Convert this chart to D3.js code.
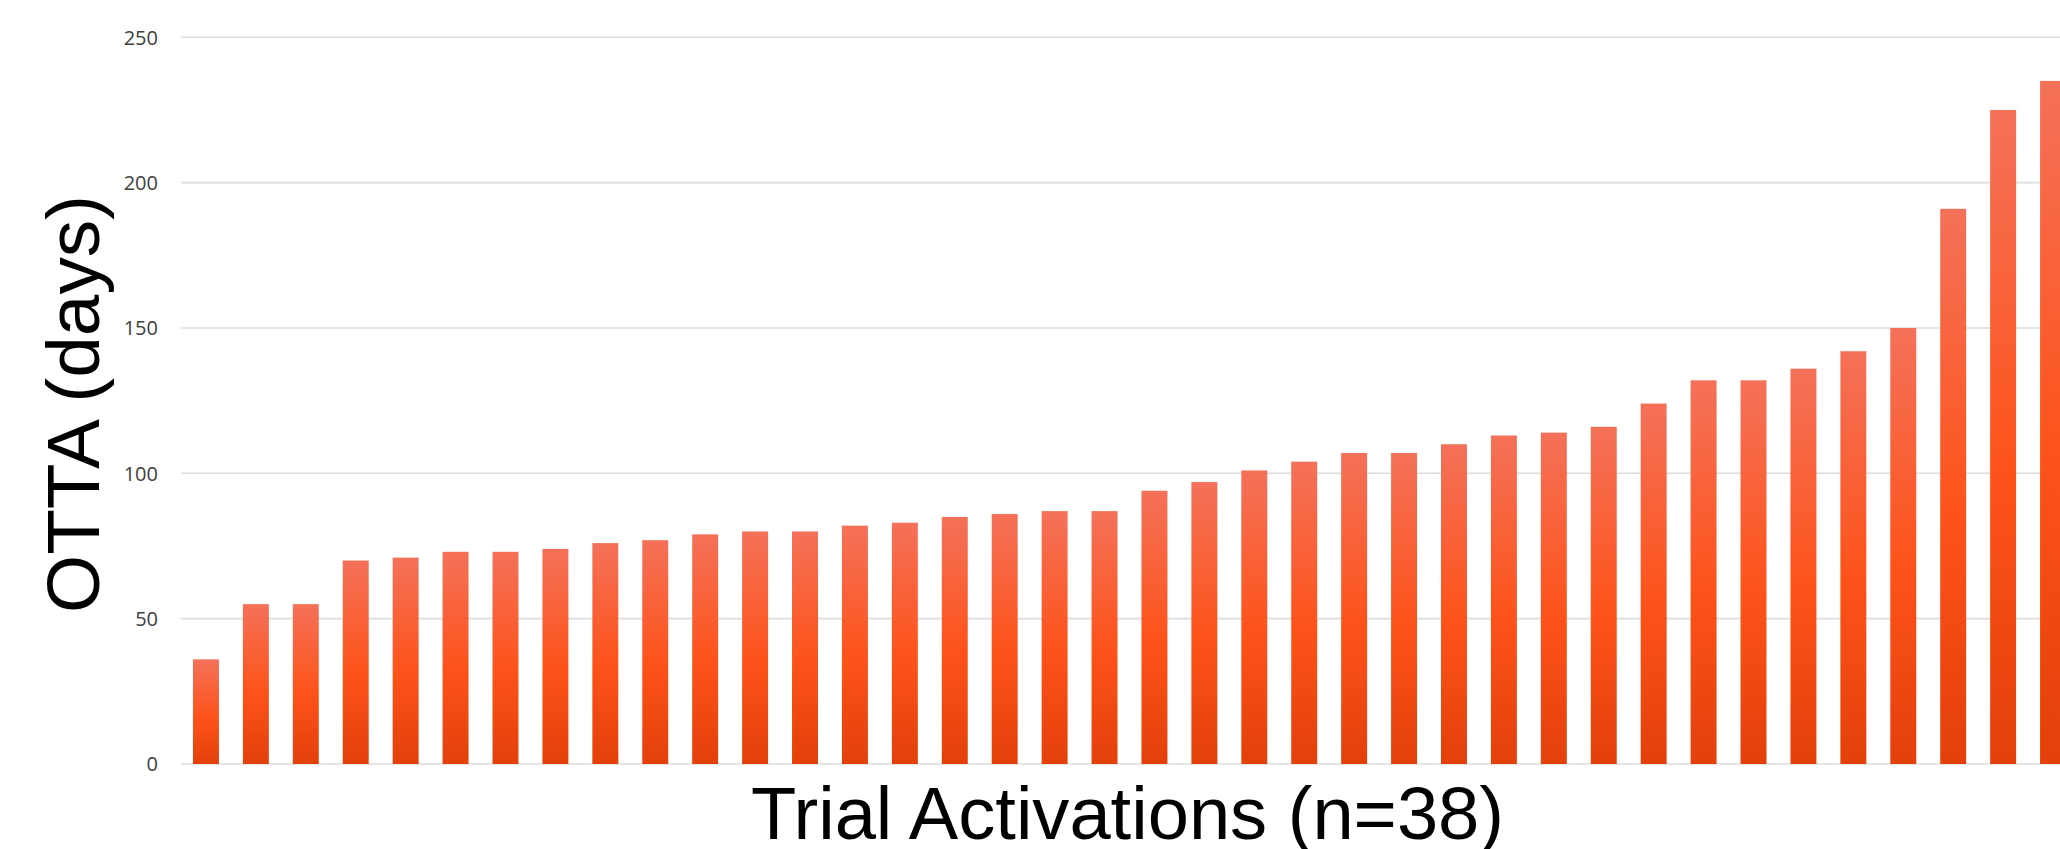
<!DOCTYPE html>
<html>
<head>
<meta charset="utf-8">
<script src="https://cdn.jsdelivr.net/npm/d3@7/dist/d3.min.js"></script>
<style>
  html, body { margin: 0; padding: 0; background: #ffffff; }
  svg { display: block; }
</style>
</head>
<body>
<svg id="chart" width="2060" height="849"></svg>
<script>
// ---- data ----
const categories = d3.range(1, 39).map(i => "T" + i);
const ottaDays = [36, 55, 55, 70, 71, 73, 73, 74,
                  76, 77, 79, 80, 80, 82, 83, 85,
                  86, 87, 87, 94, 97, 101, 104, 107,
                  107, 110, 113, 114, 116, 124, 132, 132,
                  136, 142, 150, 191, 225, 235];
const yTicks = [0, 50, 100, 150, 200, 250];
const yTitle = "OTTA (days)";
const xTitle = "Trial Activations (n=38)";

// ---- layout ----
const W = 2060, H = 849;
const plot = { left: 181, right: 2078, top: 37.3, bottom: 764 };

const svg = d3.select("#chart");

const defs = svg.append("defs");
const grad = defs.append("linearGradient")
  .attr("id", "barGrad")
  .attr("x1", 0).attr("y1", 0).attr("x2", 0).attr("y2", 1);
grad.append("stop").attr("offset", "0%").attr("stop-color", "#f47159");
grad.append("stop").attr("offset", "55%").attr("stop-color", "#fd531a");
grad.append("stop").attr("offset", "100%").attr("stop-color", "#e3400a");

const x = d3.scaleBand()
  .domain(categories)
  .range([plot.left, plot.right])
  .paddingInner(0.48)
  .paddingOuter(0.24);

const y = d3.scaleLinear()
  .domain([0, 250])
  .range([plot.bottom, plot.top]);

// gridlines
svg.append("g")
  .selectAll("line")
  .data(yTicks)
  .join("line")
  .attr("x1", plot.left)
  .attr("x2", W)
  .attr("y1", d => y(d))
  .attr("y2", d => y(d))
  .attr("stroke", "#dcdcdc")
  .attr("stroke-width", 1.6);

// y axis labels
const yAxis = d3.axisLeft(y).tickValues(yTicks).tickSize(0).tickPadding(0);
const yg = svg.append("g")
  .attr("transform", `translate(158,0)`)
  .call(yAxis);
yg.select(".domain").remove();
yg.selectAll("text")
  .attr("font-family", "'Open Sans', 'DejaVu Sans', sans-serif")
  .attr("font-size", 20)
  .attr("fill", "#404040")
  .attr("dy", "0.34em");

// bars
svg.append("g")
  .selectAll("rect")
  .data(ottaDays)
  .join("rect")
  .attr("x", (d, i) => x(categories[i]))
  .attr("width", x.bandwidth())
  .attr("y", d => y(d))
  .attr("height", d => y(0) - y(d))
  .attr("fill", "url(#barGrad)");

// y title
svg.append("text")
  .attr("transform", `translate(99, 404) rotate(-90)`)
  .attr("text-anchor", "middle")
  .attr("font-family", "'Liberation Sans', Arial, sans-serif")
  .attr("font-size", 75)
  .attr("textLength", 418)
  .attr("lengthAdjust", "spacingAndGlyphs")
  .attr("fill", "#000")
  .text(yTitle);

// x title
svg.append("text")
  .attr("x", 1127.5)
  .attr("y", 839)
  .attr("text-anchor", "middle")
  .attr("font-family", "'Liberation Sans', Arial, sans-serif")
  .attr("font-size", 75)
  .attr("textLength", 753)
  .attr("lengthAdjust", "spacingAndGlyphs")
  .attr("fill", "#000")
  .text(xTitle);
</script>
</body>
</html>
